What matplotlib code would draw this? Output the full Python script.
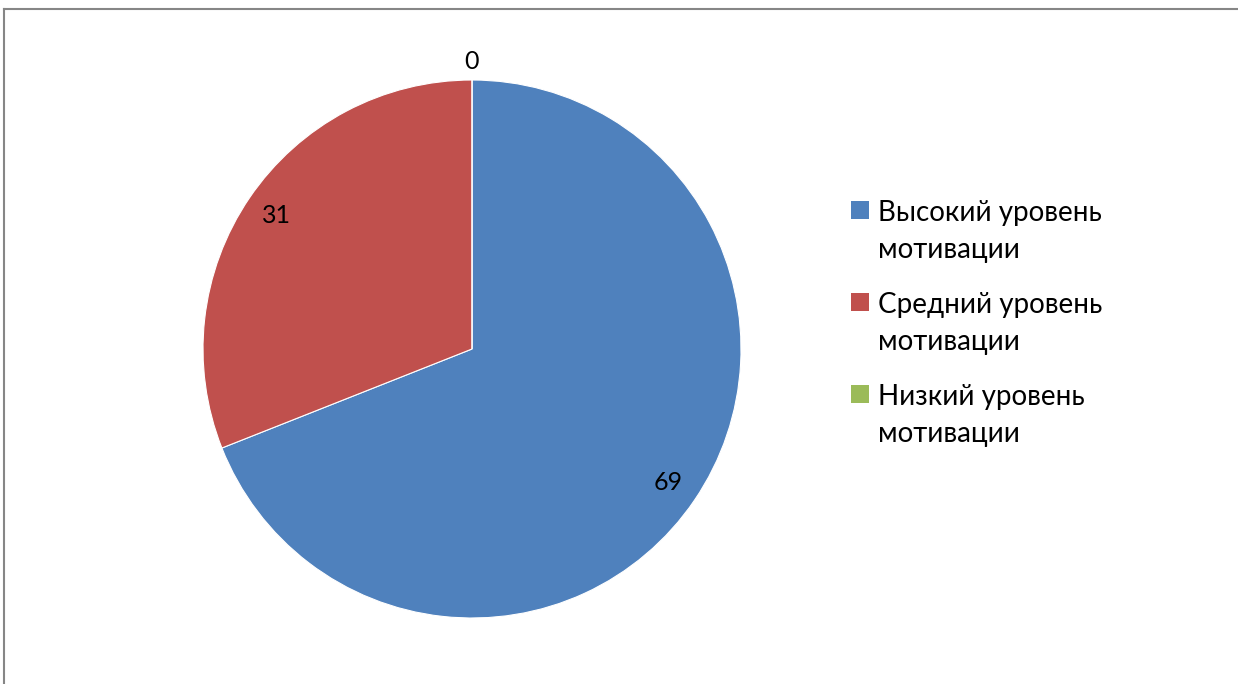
import matplotlib
matplotlib.use("Agg")
import matplotlib.pyplot as plt
import numpy as np
from matplotlib.patches import Rectangle
from matplotlib.lines import Line2D

categories = ["Высокий уровень\nмотивации", "Средний уровень\nмотивации", "Низкий уровень\nмотивации"]
values = [69, 31, 0]
colors = ["#4F81BD", "#C0504D", "#9BBB59"]

plt.rcParams['font.family'] = ['Lato', 'DejaVu Sans']

W, H = 1238, 684
fig = plt.figure(figsize=(W / 100, H / 100), dpi=100)

cx, cy, r = 472, 349, 269
ax = fig.add_axes([(cx - r) / W, (H - cy - r) / H, 2 * r / W, 2 * r / H])
wedges, _ = ax.pie(values, colors=colors, startangle=90, counterclock=False,
                   radius=1, wedgeprops=dict(edgecolor="white", linewidth=0.8))
ax.set_xlim(-1, 1)
ax.set_ylim(-1, 1)
ax.set_aspect("equal")
ax.axis("off")

total = sum(values)
cum = 0
for v in values:
    mid = 90 - (cum + v / 2) / total * 360
    cum += v
    rr = 0.88 if v > 0 else 1.07
    ax.text(rr * np.cos(np.radians(mid)), rr * np.sin(np.radians(mid)), str(v),
            ha="center", va="center", fontsize=18, color="black")

# legend (manual)
y0 = 221  # baseline of first line of first entry
for i, (lab, col) in enumerate(zip(categories, colors)):
    yb = y0 + i * 92
    fig.patches.append(Rectangle((851 / W, 1 - (yb - 2) / H), 18 / W, 18 / H,
                                 transform=fig.transFigure, facecolor=col, edgecolor="none"))
    for j, line in enumerate(lab.split("\n")):
        fig.text(878 / W, 1 - (yb + j * 37) / H, line, ha="left", va="baseline",
                 fontsize=20, color="black")

# border lines (top and left)
fig.add_artist(Line2D([3.5 / W, 1], [1 - 8.5 / H, 1 - 8.5 / H], transform=fig.transFigure,
                      color="#868686", linewidth=1.5))
fig.add_artist(Line2D([3.5 / W, 3.5 / W], [0, 1 - 8.5 / H], transform=fig.transFigure,
                      color="#868686", linewidth=1.5))

fig.savefig("out.png", dpi=100, facecolor="white")
